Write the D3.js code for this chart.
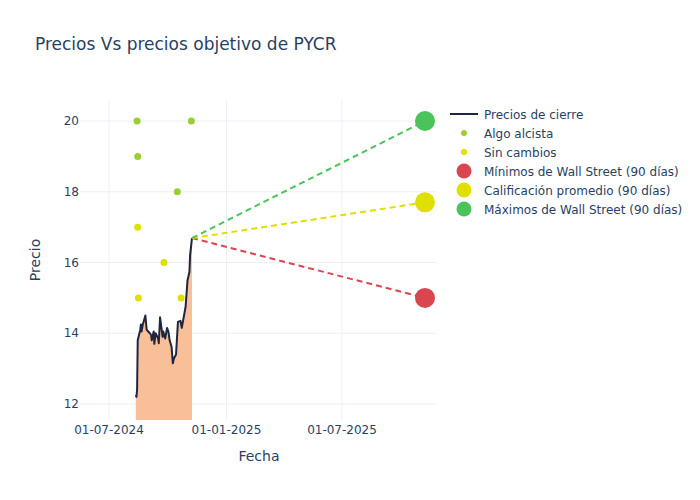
<!DOCTYPE html>
<html><head><meta charset="utf-8">
<script src="https://cdn.jsdelivr.net/npm/d3@7"></script>
<style>body{margin:0;background:#fff;} svg{font-family:"DejaVu Sans",sans-serif;}</style>
</head><body>
<svg id="c" width="700" height="500"></svg>
<script>
const priceDates = ["2024-08-12","2024-08-13","2024-08-14","2024-08-15","2024-08-19","2024-08-20","2024-08-21","2024-08-23","2024-08-27","2024-08-29","2024-09-03","2024-09-05","2024-09-06","2024-09-09","2024-09-10","2024-09-12","2024-09-16","2024-09-17","2024-09-19","2024-09-23","2024-09-24","2024-09-27","2024-09-30","2024-10-02","2024-10-04","2024-10-07","2024-10-09","2024-10-11","2024-10-14","2024-10-17","2024-10-21","2024-10-23","2024-10-25","2024-10-29","2024-11-01","2024-11-04","2024-11-05","2024-11-08"];
const priceValues = [12.25,12.2,12.4,13.8,14.1,14.25,14.05,14.25,14.5,14.1,14.0,13.95,13.8,14.05,13.7,14.0,13.85,13.72,14.45,13.9,14.05,13.85,14.15,14.05,13.8,13.62,13.15,13.3,13.4,14.32,14.35,14.15,14.35,14.75,15.5,15.73,16.2,16.69];

const bullDates = ["2024-08-14","2024-08-15","2024-10-16","2024-11-07"];
const bullValues = [20,19,18,20];
const neutralDates = ["2024-08-15","2024-08-16","2024-09-25","2024-10-22"];
const neutralValues = [17,15,16,15];

const targetDate = "2025-11-08";
const targetNames = ["Mínimos de Wall Street (90 días)","Calificación promedio (90 días)","Máximos de Wall Street (90 días)"];
const targetValues = [15.0, 17.7, 20.0];
const targetColors = ["#d9464f","#dfdf00","#4cc35a"];

const xTicks = ["2024-07-01","2025-01-01","2025-07-01"];
const yTicks = [12,14,16,18,20];

const P = d3.timeParse("%Y-%m-%d");
const svg = d3.select("#c");
const L = 80, R = 437, T = 100, B = 420;

const x = d3.scaleTime().domain([P("2024-06-04"), P("2025-11-25")]).range([L, R]);
// calibrate: 2024-07-01 -> 109, 2025-07-01 -> 342
const d0 = P("2024-07-01"), d1 = P("2025-07-01");
const ppd = (342-109)/((d1-d0));
x.domain([new Date(+d0 - (109-L)/ppd), new Date(+d0 + (R-109)/ppd)]);
const y = d3.scaleLinear().domain([12 - (420-404)/35.375, 20 + (121-100)/35.375]).range([B, T]);

// grid
const g = svg.append("g");
g.selectAll(".gx").data(xTicks).enter().append("line")
  .attr("x1", d=>x(P(d))).attr("x2", d=>x(P(d))).attr("y1", T).attr("y2", B)
  .attr("stroke", "#ebf0f8").attr("stroke-width", 1);
g.selectAll(".gy").data(yTicks).enter().append("line")
  .attr("x1", L).attr("x2", R).attr("y1", d=>y(d)).attr("y2", d=>y(d))
  .attr("stroke", "#ebf0f8").attr("stroke-width", 1);

const price = priceDates.map((d,i)=>({d:P(d), v:priceValues[i]}));

svg.append("defs").append("clipPath").attr("id","clip").append("rect")
  .attr("x", L).attr("y", T).attr("width", R-L).attr("height", B-T);

const plot = svg.append("g").attr("clip-path","url(#clip)");
plot.append("path").datum(price)
  .attr("d", d3.area().x(p=>x(p.d)).y0(y(0)).y1(p=>y(p.v)))
  .attr("fill", "#f9bf99");
plot.append("path").datum(price)
  .attr("d", d3.line().x(p=>x(p.d)).y(p=>y(p.v)))
  .attr("fill","none").attr("stroke","#1f2640").attr("stroke-width",2).attr("stroke-linejoin","round");

const last = price[price.length-1];
targetValues.forEach((v,i)=>{
  plot.append("line").attr("x1", x(last.d)).attr("y1", y(last.v))
    .attr("x2", x(P(targetDate))).attr("y2", y(v))
    .attr("stroke", targetColors[i]).attr("stroke-width", 2).attr("stroke-dasharray","6,4");
});

plot.selectAll(".bull").data(bullDates).enter().append("circle")
  .attr("cx", (d)=>x(P(d))).attr("cy", (d,i)=>y(bullValues[i])).attr("r", 3.5).attr("fill", "#9ace32");
plot.selectAll(".neu").data(neutralDates).enter().append("circle")
  .attr("cx", (d)=>x(P(d))).attr("cy", (d,i)=>y(neutralValues[i])).attr("r", 3.5).attr("fill", "#dfdf00");

targetValues.forEach((v,i)=>{
  svg.append("circle").attr("cx", x(P(targetDate))).attr("cy", y(v)).attr("r", 10).attr("fill", targetColors[i]);
});

// axes
const fmt = d3.timeFormat("%d-%m-%Y");
svg.selectAll(".xt").data(xTicks).enter().append("text")
  .attr("x", d=>x(P(d))).attr("y", 434).attr("text-anchor","middle")
  .attr("font-size", 12).attr("fill","#2a3f5f").text(d=>fmt(P(d)));
svg.selectAll(".yt").data(yTicks).enter().append("text")
  .attr("x", 79).attr("y", d=>y(d)+4).attr("text-anchor","end")
  .attr("font-size", 12).attr("fill","#2a3f5f").text(d=>d);

svg.append("text").attr("x", (L+R)/2+0.5).attr("y", 461).attr("text-anchor","middle")
  .attr("font-size", 14).attr("fill","#2a3f5f").text("Fecha");
svg.append("text").attr("transform", `translate(40,${(T+B)/2}) rotate(-90)`).attr("text-anchor","middle")
  .attr("font-size", 14).attr("fill","#2a3f5f").text("Precio");

svg.append("text").attr("x", 35).attr("y", 50).attr("font-size", 17).attr("fill","#2a3f5f")
  .text("Precios Vs precios objetivo de PYCR");

// legend
const legItems = [
  {name:"Precios de cierre", type:"line", color:"#1f2640"},
  {name:"Algo alcista", type:"small", color:"#9ace32"},
  {name:"Sin cambios", type:"small", color:"#dfdf00"},
  {name:targetNames[0], type:"big", color:targetColors[0]},
  {name:targetNames[1], type:"big", color:targetColors[1]},
  {name:targetNames[2], type:"big", color:targetColors[2]}
];
const lg = svg.append("g");
legItems.forEach((it,i)=>{
  const yy = 114 + i*19;
  if (it.type==="line") lg.append("line").attr("x1",450).attr("x2",478).attr("y1",yy).attr("y2",yy).attr("stroke",it.color).attr("stroke-width",2);
  else lg.append("circle").attr("cx",464).attr("cy",yy).attr("r", it.type==="small"?3:7.5).attr("fill",it.color);
  lg.append("text").attr("x",484).attr("y",yy+4.5).attr("font-size",12).attr("fill","#2a3f5f").text(it.name);
});
</script>
</body></html>
